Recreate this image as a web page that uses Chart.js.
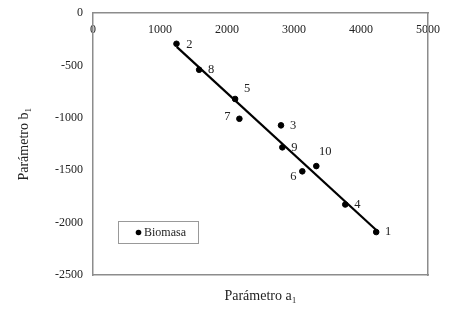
<!DOCTYPE html>
<html>
<head>
<meta charset="utf-8">
<script src="https://cdn.jsdelivr.net/npm/chart.js@4.4.1/dist/chart.umd.min.js"></script>
<style>
    html, body { margin: 0; padding: 0; background: #fff; }
    #wrap { width: 450px; height: 311px; }
</style>
</head>
<body>
<div id="wrap"><canvas id="scatterChart" width="450" height="311"></canvas></div>
<script>
// point numbers and values
const pointNames = ['2', '8', '5', '7', '3', '9', '10', '6', '4', '1'];
const paramA = [1246, 1584, 2121, 2185, 2806, 2826, 3333, 3124, 3765, 4227];
const paramB = [-292, -540, -819, -1008, -1071, -1281, -1460, -1510, -1827, -2090];

// fitted line end points
const fitA = [1250, 4235];
const fitB = [-322, -2075];

const xTicks = [0, 1000, 2000, 3000, 4000, 5000];
const yTicks = [0, -500, -1000, -1500, -2000, -2500];

// label placement around each point (px)
const labelOffsets = [[13, 1], [12, 0], [12, -10], [-12, -2], [12, 0], [12, 0], [9, -14], [-9, 5], [12, 0], [12, 0]];

const axisGray = '#8c8c8c';
const serif = "'Liberation Serif', 'Times New Roman', serif";

const pointLabelPlugin = {
    id: 'pointLabels',
    afterDatasetsDraw(chart) {
        const ctx = chart.ctx;
        const meta = chart.getDatasetMeta(0);
        ctx.save();
        ctx.font = '12.5px ' + serif;
        ctx.fillStyle = '#222';
        ctx.textAlign = 'center';
        ctx.textBaseline = 'middle';
        meta.data.forEach((pt, i) => {
            const off = labelOffsets[i];
            ctx.fillText(pointNames[i], pt.x + off[0], pt.y + off[1]);
        });
        ctx.restore();
    }
};

// legend box inside the plot, lower left
const boxLegendPlugin = {
    id: 'boxLegend',
    afterDraw(chart) {
        const ctx = chart.ctx;
        const area = chart.chartArea;
        const ds = chart.data.datasets[0];
        const x = area.left + 25, y = area.bottom - 54;
        ctx.save();
        ctx.fillStyle = '#fff';
        ctx.fillRect(x, y, 80, 22);
        ctx.strokeStyle = '#999';
        ctx.lineWidth = 1;
        ctx.strokeRect(x + 0.5, y + 0.5, 80, 22);
        ctx.fillStyle = ds.backgroundColor;
        ctx.beginPath();
        ctx.arc(x + 20.5, y + 11.5, 2.8, 0, Math.PI * 2);
        ctx.fill();
        ctx.font = '12px ' + serif;
        ctx.fillStyle = '#222';
        ctx.textBaseline = 'middle';
        ctx.fillText(ds.label, x + 26, y + 12);
        ctx.restore();
    }
};

function initChart() {
    const ctx = document.getElementById('scatterChart').getContext('2d');

    const data = {
        datasets: [{
            type: 'scatter',
            label: 'Biomasa',
            data: paramA.map((a, i) => ({ x: a, y: paramB[i] })),
            backgroundColor: '#000',
            borderColor: '#000',
            pointRadius: 2.8,
            pointHoverRadius: 2.8,
            xAxisID: 'x',
            yAxisID: 'y'
        }, {
            type: 'line',
            label: 'Ajuste',
            data: fitA.map((a, i) => ({ x: a, y: fitB[i] })),
            borderColor: '#000',
            borderWidth: 2.2,
            pointRadius: 0,
            fill: false,
            xAxisID: 'x',
            yAxisID: 'y'
        }]
    };

    const tickFont = { family: serif, size: 12 };
    const titleFont = { family: serif, size: 14 };
    const plainNumber = (value) => String(value);

    const config = {
        data: data,
        options: {
            responsive: false,
            animation: false,
            layout: { padding: 0 },
            scales: {
                x: {
                    type: 'linear',
                    position: 'top',
                    min: 0,
                    max: 5000,
                    afterBuildTicks: (scale) => { scale.ticks = xTicks.map(v => ({ value: v })); },
                    afterFit: (scale) => { scale.height = 9; },
                    grid: { display: false, drawTicks: false },
                    border: { display: true, color: axisGray, width: 1.5 },
                    ticks: { mirror: true, padding: 9, color: '#222', font: tickFont, maxRotation: 0, callback: plainNumber }
                },
                x2: {
                    type: 'linear',
                    position: 'bottom',
                    min: 0,
                    max: 5000,
                    afterFit: (scale) => { scale.height = 36; },
                    grid: { display: false, drawTicks: false },
                    border: { display: true, color: axisGray, width: 1.5 },
                    ticks: { display: false },
                    title: {
                        display: true,
                        text: 'Parámetro a₁',
                        color: '#222',
                        font: titleFont,
                        padding: { top: 0, bottom: 6 }
                    }
                },
                y: {
                    type: 'linear',
                    position: 'left',
                    min: -2500,
                    max: 0,
                    afterBuildTicks: (scale) => { scale.ticks = yTicks.map(v => ({ value: v })); },
                    afterFit: (scale) => { scale.width = 93; },
                    grid: { display: false, drawOnChartArea: false, drawTicks: true, tickLength: 4, color: axisGray },
                    border: { display: true, color: axisGray, width: 1.5 },
                    ticks: { padding: 6, color: '#222', font: tickFont, callback: plainNumber },
                    title: {
                        display: true,
                        text: 'Parámetro b₁',
                        color: '#222',
                        font: titleFont,
                        padding: { top: 16, bottom: 0 }
                    }
                },
                y2: {
                    type: 'linear',
                    position: 'right',
                    min: -2500,
                    max: 0,
                    afterFit: (scale) => { scale.width = 22; },
                    grid: { display: false, drawTicks: false },
                    border: { display: true, color: axisGray, width: 1.5 },
                    ticks: { display: false }
                }
            },
            plugins: {
                legend: { display: false },
                tooltip: { enabled: false }
            }
        },
        plugins: [pointLabelPlugin, boxLegendPlugin]
    };

    new Chart(ctx, config);
}

document.addEventListener('DOMContentLoaded', () => {
    initChart();
});
</script>
</body>
</html>
